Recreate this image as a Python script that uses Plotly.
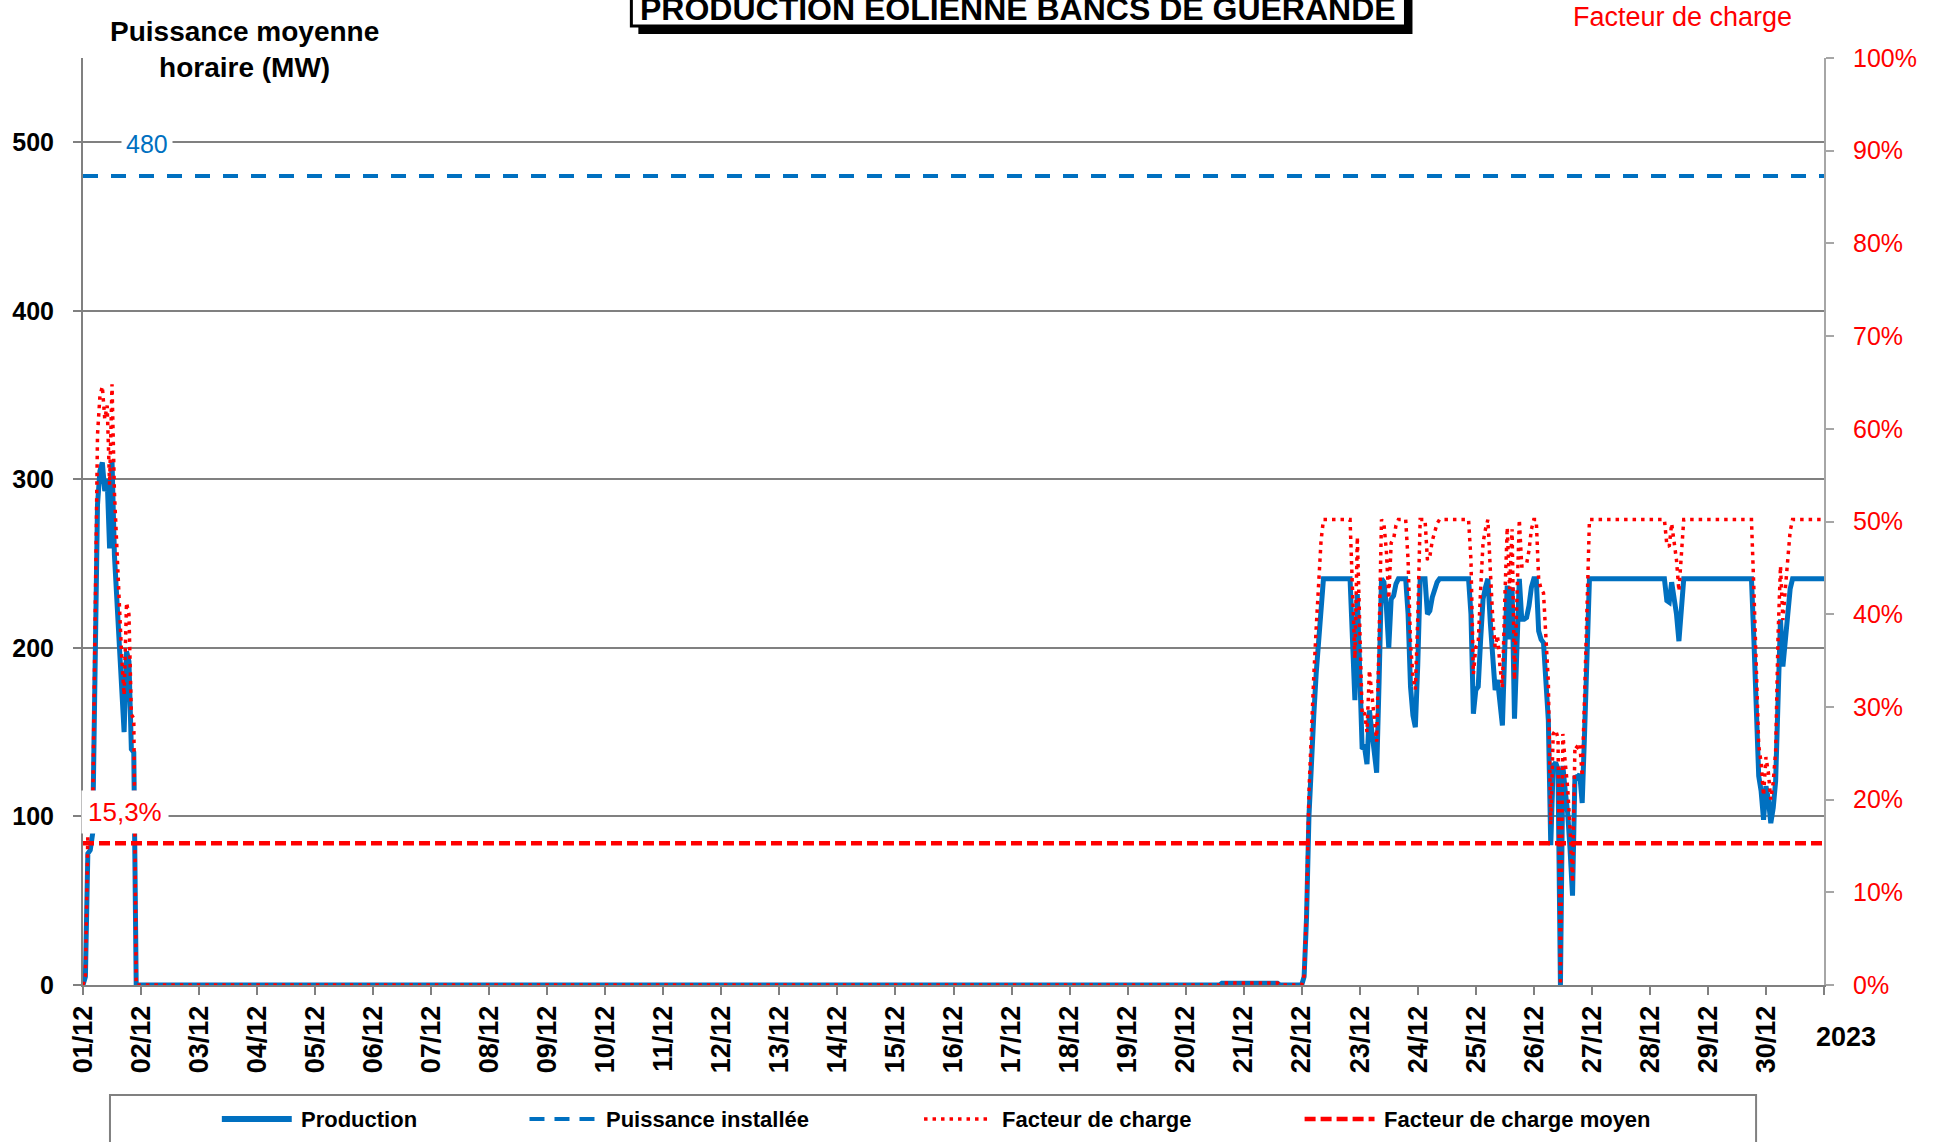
import pandas as pd
import plotly.graph_objects as go

# ---------------- DATA ----------------
CAPACITY_MW = 480            # Puissance installée
MEAN_LOAD_FACTOR = 0.153     # Facteur de charge moyen (15,3%)

# Hourly average production (MW), 24 values per day (00h..23h)
prod_dec01 = [0, 5, 78, 80, 90, 190, 285, 305, 310, 293, 300, 259,
              311, 255, 225, 195, 170, 150, 198, 192, 140, 138, 0, 0]
prod_zero_day = [0] * 24     # 02/12 .. 19/12 : no production
prod_dec20 = [0] * 15 + [1] * 9
prod_dec21 = [1] * 15 + [0] * 9
prod_dec22 = [0, 5, 40, 100, 135, 160, 185, 205, 230, 241, 241, 241,
              241, 241, 241, 241, 241, 241, 241, 241, 241, 205, 169, 232]
prod_dec23 = [190, 140, 141, 131, 163, 150, 135, 126, 180, 241, 239, 225,
              200, 229, 231, 238, 241, 241, 241, 241, 220, 177, 160, 153]
prod_dec24 = [190, 241, 241, 241, 220, 222, 230, 235, 239, 241, 241, 241,
              241, 241, 241, 241, 241, 241, 241, 241, 241, 241, 220, 161]
prod_dec25 = [175, 177, 205, 229, 236, 241, 215, 190, 175, 181, 165, 154,
              200, 237, 205, 236, 158, 200, 241, 217, 217, 218, 225, 236]
prod_dec26 = [241, 241, 210, 205, 203, 180, 157, 83, 130, 132, 128, 0,
              130, 115, 102, 80, 53, 124, 123, 125, 108, 150, 200, 241]
prod_dec27 = [241] * 24
prod_dec28 = [241, 241, 241, 241, 241, 241, 241, 228, 227, 239, 230, 220,
              204, 225, 241, 241, 241, 241, 241, 241, 241, 241, 241, 241]
prod_dec29 = [241, 241, 241, 241, 241, 241, 241, 241, 241, 241, 241, 241,
              241, 241, 241, 241, 241, 241, 241, 205, 165, 124, 115, 98]
prod_dec30 = [118, 110, 96, 105, 121, 181, 217, 189, 205, 223, 235, 241,
              241, 241, 241, 241, 241, 241, 241, 241, 241, 241, 241, 241]
prod_dec31_00h = [241]

day_tick_dates = ["2023-12-%02d" % d for d in range(1, 32)]
day_tick_labels = ["01/12", "02/12", "03/12", "04/12", "05/12", "06/12", "07/12",
                   "08/12", "09/12", "10/12", "11/12", "12/12", "13/12", "14/12",
                   "15/12", "16/12", "17/12", "18/12", "19/12", "20/12", "21/12",
                   "22/12", "23/12", "24/12", "25/12", "26/12", "27/12", "28/12",
                   "29/12", "30/12", ""]
left_ticks = [0, 100, 200, 300, 400, 500]
right_ticks = [0, 0.1, 0.2, 0.3, 0.4, 0.5, 0.6, 0.7, 0.8, 0.9, 1.0]
right_tick_labels = ["0%", "10%", "20%", "30%", "40%", "50%", "60%", "70%", "80%", "90%", "100%"]

production = (prod_dec01 + prod_zero_day * 18 + prod_dec20 + prod_dec21 +
              prod_dec22 + prod_dec23 + prod_dec24 + prod_dec25 + prod_dec26 +
              prod_dec27 + prod_dec28 + prod_dec29 + prod_dec30 + prod_dec31_00h)
times = pd.date_range("2023-12-01 00:00", periods=len(production), freq="h")
load_factor = [p / CAPACITY_MW for p in production]

# ---------------- LAYOUT GEOMETRY ----------------
W, H = 1938, 1142
L, R, T, B = 81, 1824, 58, 985


def px_x(x):
    return (x - L) / (R - L)


def px_y(y):
    return (B - y) / (B - T)


FONT = "Arial, Liberation Sans, sans-serif"
BLUE = "#0070C0"
RED = "#FF0000"

fig = go.Figure()
fig.add_trace(go.Scatter(x=times, y=production, mode="lines", name="Production",
                         line=dict(color=BLUE, width=5), yaxis="y", showlegend=False))
fig.add_trace(go.Scatter(x=[times[0], times[-1]], y=[CAPACITY_MW, CAPACITY_MW], mode="lines",
                         name="Puissance installée",
                         line=dict(color=BLUE, width=4, dash="15px,13px"), yaxis="y",
                         showlegend=False))
fig.add_trace(go.Scatter(x=times, y=load_factor, mode="lines", name="Facteur de charge",
                         line=dict(color=RED, width=3.5, dash="3.5px,5px"), yaxis="y2",
                         showlegend=False))
fig.add_trace(go.Scatter(x=[times[0], times[-1]], y=[MEAN_LOAD_FACTOR, MEAN_LOAD_FACTOR],
                         mode="lines", name="Facteur de charge moyen",
                         line=dict(color=RED, width=4.5, dash="11px,5px"), yaxis="y2",
                         showlegend=False))

shapes = []
annotations = []

# Title box with shadow
shapes.append(dict(type="rect", xref="paper", yref="paper", layer="above",
                   x0=px_x(637), x1=px_x(1412), y0=px_y(-20), y1=px_y(34),
                   fillcolor="black", line=dict(width=0)))
shapes.append(dict(type="rect", xref="paper", yref="paper", layer="above",
                   x0=px_x(630), x1=px_x(1405), y0=px_y(-20), y1=px_y(26),
                   fillcolor="white", line=dict(color="black", width=3)))
annotations.append(dict(xref="paper", yref="paper", x=px_x(1017), y=px_y(9),
                        text="<b>PRODUCTION EOLIENNE BANCS DE GUERANDE</b>", showarrow=False,
                        xanchor="center", yanchor="middle",
                        font=dict(family=FONT, size=32, color="black")))

# Axis titles
annotations.append(dict(xref="paper", yref="paper", x=px_x(243), y=px_y(49),
                        text="<b>Puissance moyenne<br>horaire (MW)</b>", showarrow=False,
                        xanchor="center", yanchor="middle", align="center",
                        font=dict(family=FONT, size=28, color="black")))
annotations.append(dict(xref="paper", yref="paper", x=px_x(1682), y=px_y(17),
                        text="Facteur de charge", showarrow=False,
                        xanchor="center", yanchor="middle",
                        font=dict(family=FONT, size=27, color=RED)))
annotations.append(dict(xref="paper", yref="paper", x=px_x(1846), y=px_y(1037),
                        text="<b>2023</b>", showarrow=False,
                        xanchor="center", yanchor="middle",
                        font=dict(family=FONT, size=27, color="black")))

# Value labels
annotations.append(dict(xref="paper", yref="paper", x=px_x(145), y=px_y(144),
                        text=str(CAPACITY_MW), showarrow=False, bgcolor="white",
                        xanchor="center", yanchor="middle", borderpad=4,
                        font=dict(family=FONT, size=25, color=BLUE)))
annotations.append(dict(xref="paper", yref="paper", x=px_x(123), y=px_y(812),
                        text=("%.1f%%" % (MEAN_LOAD_FACTOR * 100)).replace(".", ","),
                        showarrow=False, bgcolor="white",
                        xanchor="center", yanchor="middle", borderpad=6,
                        font=dict(family=FONT, size=26, color=RED)))

# Manual legend
shapes.append(dict(type="rect", xref="paper", yref="paper", layer="above",
                   x0=px_x(108), x1=px_x(1756), y0=px_y(1160), y1=px_y(1095),
                   fillcolor="white", line=dict(color="#808080", width=2)))
LEG_Y = 1119
legend_items = [
    ("Production", 220, 290, 297, dict(color=BLUE, width=6)),
    ("Puissance installée", 528, 597, 603, dict(color=BLUE, width=4, dash="15px,10px")),
    ("Facteur de charge", 923, 991, 999, dict(color=RED, width=3.5, dash="3.5px,5px")),
    ("Facteur de charge moyen", 1304, 1374, 1381, dict(color=RED, width=4.5, dash="11px,5px")),
]
for name, sx0, sx1, tx, ln in legend_items:
    shapes.append(dict(type="line", xref="paper", yref="paper", layer="above",
                       x0=px_x(sx0), x1=px_x(sx1), y0=px_y(LEG_Y), y1=px_y(LEG_Y), line=ln))
    annotations.append(dict(xref="paper", yref="paper", x=px_x(tx), y=px_y(LEG_Y),
                            text="<b>%s</b>" % name, showarrow=False,
                            xanchor="left", yanchor="middle",
                            font=dict(family=FONT, size=22, color="black")))

fig.update_layout(
    width=W, height=H,
    margin=dict(l=L, r=W - R, t=T, b=H - B, pad=0),
    paper_bgcolor="white", plot_bgcolor="white",
    showlegend=False,
    font=dict(family=FONT),
    xaxis=dict(type="date", range=[day_tick_dates[0], day_tick_dates[-1]],
               tickmode="array", tickvals=day_tick_dates, ticktext=day_tick_labels,
               tickangle=-90, tickfont=dict(family=FONT, size=27, color="black", weight="bold"),
               ticks="outside", ticklen=8, tickwidth=2, tickcolor="#808080",
               showline=True, linecolor="#808080", linewidth=2,
               showgrid=False, zeroline=False, ticklabelstandoff=0),
    yaxis=dict(range=[0, 550], tickmode="array", tickvals=left_ticks,
               tickfont=dict(family=FONT, size=25, color="black", weight="bold"),
               ticks="outside", ticklen=8, tickwidth=2, tickcolor="#808080",
               showline=True, linecolor="#808080", linewidth=2,
               showgrid=True, gridcolor="#808080", gridwidth=1.5,
               zeroline=False, ticklabelstandoff=14),
    yaxis2=dict(range=[0, 1], overlaying="y", side="right", tickmode="array",
                tickvals=right_ticks, ticktext=right_tick_labels,
                tickfont=dict(family=FONT, size=25, color=RED),
                ticks="outside", ticklen=8, tickwidth=2, tickcolor="#A6A6A6",
                showline=True, linecolor="#A6A6A6", linewidth=2,
                showgrid=False, zeroline=False, ticklabelstandoff=14),
    shapes=shapes,
    annotations=annotations,
)

fig.write_html("out.html", config={"displayModeBar": False},
               post_script="document.body.style.margin='0';document.body.style.overflow='hidden';")
